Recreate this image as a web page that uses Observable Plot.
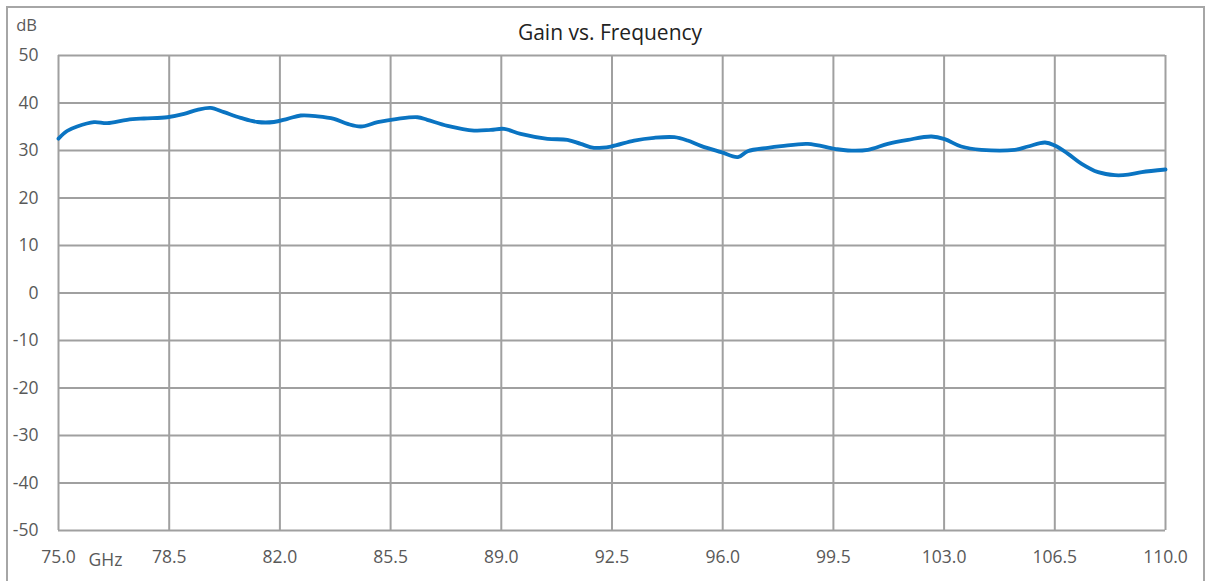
<!DOCTYPE html>
<html>
<head>
<meta charset="utf-8">
<script src="https://cdn.jsdelivr.net/npm/d3@7"></script>
<script src="https://cdn.jsdelivr.net/npm/@observablehq/plot@0.6"></script>
<style>
  html, body { margin: 0; padding: 0; background: #fff; }
  #wrap { position: relative; width: 1212px; height: 581px; overflow: hidden; }
  #border { position: absolute; left: 6px; top: 6px; width: 1199px; height: 620px; border: 2px solid #a6a6a6; box-sizing: border-box; }
  #chart { position: absolute; left: 0; top: 0; }
</style>
</head>
<body>
<div id="wrap"><div id="border"></div><div id="chart"></div></div>
<script>
const freq = [75.0, 75.27, 75.59, 76.12, 76.54, 77.17, 77.7, 78.44, 78.97, 79.39, 79.81, 80.23, 80.76, 81.29, 81.81, 82.24, 82.66, 83.19, 83.71, 84.14, 84.56, 85.09, 85.72, 86.35, 86.66, 87.3, 88.14, 88.67, 89.09, 89.61, 90.46, 91.09, 91.51, 91.93, 92.46, 93.2, 93.83, 94.47, 94.89, 95.31, 95.95, 96.48, 96.79, 97.43, 97.85, 98.69, 99.54, 99.96, 100.59, 101.22, 101.86, 102.6, 103.02, 103.54, 104.18, 105.23, 105.65, 106.19, 106.5, 106.92, 107.35, 107.87, 108.4, 108.82, 109.25, 110.0];
const gain = [32.5, 34.1, 35.05, 35.96, 35.75, 36.46, 36.74, 37.0, 37.7, 38.56, 38.98, 38.07, 36.88, 36.0, 36.0, 36.67, 37.37, 37.2, 36.67, 35.6, 35.05, 35.96, 36.67, 37.0, 36.46, 35.19, 34.2, 34.35, 34.56, 33.5, 32.46, 32.25, 31.4, 30.56, 30.84, 32.1, 32.67, 32.8, 32.1, 30.98, 29.65, 28.6, 29.86, 30.56, 30.9, 31.4, 30.35, 30.0, 30.14, 31.4, 32.25, 32.95, 32.39, 30.84, 30.14, 30.14, 30.84, 31.68, 31.05, 29.3, 27.2, 25.44, 24.8, 24.9, 25.44, 26.0];
const xTicks = [75.0, 78.5, 82.0, 85.5, 89.0, 92.5, 96.0, 99.5, 103.0, 106.5, 110.0];
const yTicks = [-50, -40, -30, -20, -10, 0, 10, 20, 30, 40, 50];
const title = "Gain vs. Frequency";
const xUnit = "GHz";
const yUnit = "dB";

const data = freq.map((f, i) => ({f, g: gain[i]}));
const gridColor = "#a0a0a0";
const labelColor = "#595959";

const chart = Plot.plot({
  width: 1212,
  height: 581,
  marginLeft: 58,
  marginRight: 47,
  marginTop: 55,
  marginBottom: 51,
  style: {fontFamily: "'Open Sans', sans-serif", fontSize: "17.5px", color: labelColor, background: "transparent"},
  x: {domain: [75, 110], ticks: xTicks, tickFormat: d => d.toFixed(1), tickSize: 0, tickPadding: 20, label: null},
  y: {domain: [-50, 50], ticks: yTicks, tickFormat: d => String(d), tickSize: 0, tickPadding: 20, label: null},
  marks: [
    Plot.ruleX(xTicks, {stroke: gridColor, strokeWidth: 2, strokeOpacity: 1}),
    Plot.ruleY(yTicks, {stroke: gridColor, strokeWidth: 2, strokeOpacity: 1}),
    Plot.line(data, {x: "f", y: "g", stroke: "#0a74c2", strokeWidth: 3.8, curve: "catmull-rom"}),
    Plot.text([title], {frameAnchor: "top", lineAnchor: "middle", dx: -2, dy: -22, fontSize: 21, fill: "#222"}),
    Plot.text([xUnit], {frameAnchor: "bottom-left", textAnchor: "middle", lineAnchor: "middle", dx: 47, dy: 30, fontSize: 17.5, fill: labelColor}),
    Plot.text([yUnit], {frameAnchor: "top-left", textAnchor: "middle", lineAnchor: "middle", dx: -32, dy: -30, fontSize: 16.5, fill: labelColor})
  ]
});
document.getElementById("chart").appendChild(chart);
</script>
</body>
</html>
